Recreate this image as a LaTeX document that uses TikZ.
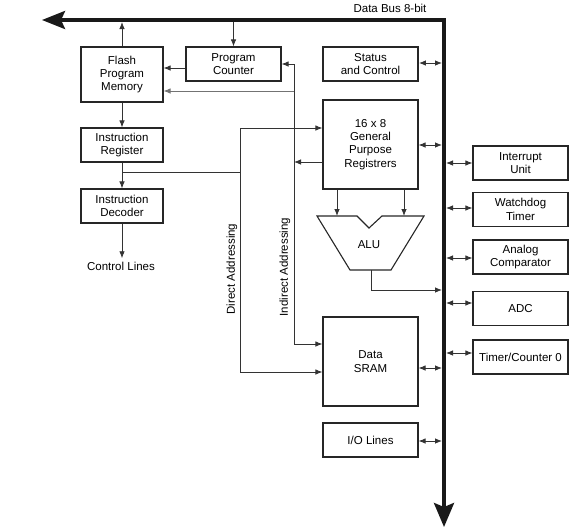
\documentclass[tikz,border=0pt]{standalone}
\usepackage{fontspec}
\setmainfont{Liberation Sans}
\usetikzlibrary{arrows.meta}
\begin{document}
\begin{tikzpicture}[x=1pt,y=-1pt,
  txt/.style={font=\fontsize{11.5}{13.3}\selectfont},
  box/.style={txt,draw=black!85,line width=1.2pt,minimum width=95pt,minimum height=34pt,inner sep=1pt,align=center},
  conn/.style={draw=black!80,line width=0.8pt},
  arr/.style={conn,-{Latex[length=7pt,width=5.5pt]}},
  biarr/.style={conn,{Latex[length=7pt,width=5.5pt]}-{Latex[length=7pt,width=5.5pt]}},
  tobus/.style={shorten >=2pt},
  frombus/.style={shorten <=2pt},
  bus/.style={line width=3.6pt,black!90,line join=miter}
]
\useasboundingbox (0,0) rectangle (588,531);

% bus
\coordinate (busL) at (42,20);
\coordinate (busC) at (444,20);
\coordinate (busB) at (444,527);
\draw[bus,{Stealth[length=23pt,width=18pt,inset=4pt]}-{Stealth[length=24pt,width=20pt,inset=4pt]}] (busL) -- (busC) -- (busB);
\node[txt] (dbl) at (390,8) {Data Bus 8-bit};

% left column
\node[box,minimum width=82pt,minimum height=55pt] (flash) at (122,74.5) {Flash\\Program\\Memory};
\node[box] (pc) at (233.5,64) {Program\\Counter};
\node[box,minimum width=82pt] (ir) at (122,145) {Instruction\\Register};
\node[box,minimum width=82pt] (id) at (122,206) {Instruction\\Decoder};
\node[txt] (ctl) at (121,266) {Control Lines};

% middle column
\node[box,line width=1.9pt] (status) at (370.5,64) {Status\\and Control};
\node[box,minimum height=89pt] (gpr) at (370.5,144.5) {16 x 8\\General\\Purpose\\Registrers};
\node[box,minimum height=89pt] (sram) at (370.5,361.5) {\raisebox{-6pt}{\parbox{60pt}{\centering Data\\SRAM}}};
\node[box] (io) at (370.5,440) {I/O Lines};

% right column
\node[box] (intr) at (520.5,163) {Interrupt\\Unit};
\node[box] (wdt) at (520.5,209.5) {Watchdog\\Timer};
\node[box] (acmp) at (520.5,257) {Analog\\Comparator};
\node[box] (adc) at (520.5,308.5) {ADC};
\node[box] (tmr) at (520.5,357) {Timer/Counter 0};

% ALU
\coordinate (a1) at (317,216);
\coordinate (a2) at (357,216);
\coordinate (a3) at (369,228);
\coordinate (a4) at (382,216);
\coordinate (a5) at (424,216);
\coordinate (a6) at (391,270);
\coordinate (a7) at (350,270);
\draw[draw=black!85,line width=1.1pt,line join=miter] (a1) -- (a2) -- (a3) -- (a4) -- (a5) -- (a6) -- (a7) -- cycle;
\node[txt] (alu) at (369,245) {ALU};
\coordinate (aluOut) at (371,270);
\coordinate (aluBend) at (371,290);

% bus links
\draw[arr,frombus] (pc.north |- busC) -- (pc.north);
\draw[arr,tobus] (flash.north) -- (flash.north |- busC);
\draw[biarr,tobus] (status.east |- 0,63) -- (busC |- 0,63);
\draw[biarr,tobus] (gpr.east |- 0,145) -- (busC |- 0,145);
\draw[biarr,tobus] (sram.east |- 0,368) -- (busC |- 0,368);
\draw[biarr,tobus] (io.east |- 0,441) -- (busC |- 0,441);
\draw[biarr,frombus] (busC |- intr.west) -- (intr.west);
\draw[biarr,frombus] (busC |- 0,208) -- (wdt.west |- 0,208);
\draw[biarr,frombus] (busC |- 0,258) -- (acmp.west |- 0,258);
\draw[biarr,frombus] (busC |- 0,303) -- (adc.west |- 0,303);
\draw[biarr,frombus] (busC |- 0,353) -- (tmr.west |- 0,353);
\draw[arr,tobus] (aluOut) -- (aluBend) -- (busC |- aluBend);

% program flow
\draw[arr] (pc.west |- 0,68) -- (flash.east |- 0,68);
\draw[arr] (flash.south) -- (ir.north);
\draw[arr] (ir.south) -- (id.north);
\draw[arr] (id.south) -- (id.south |- ctl.north);

% GPR to ALU
\draw[arr] (gpr.south -| 337,0) -- (337,216);
\draw[arr] (gpr.south -| 404,0) -- (404,216);

% indirect addressing
\coordinate (indTop) at (294,64);
\coordinate (indMid) at (294,91);
\coordinate (indGpr) at (294,162);
\coordinate (indBot) at (294,344);
\draw[arr] (indTop) -- (pc.east);
\draw[conn] (indTop) -- (indBot);
\draw[arr] (indBot) -- (sram.west |- indBot);
\draw[arr,draw=black!55] (indMid) -- (flash.east |- indMid);
\draw[arr] (gpr.west |- indGpr) -- (indGpr);
\node[txt,rotate=90] (ial) at (285,267) {Indirect Addressing};

% direct addressing
\coordinate (dirJ) at (122,172);
\coordinate (dirTop) at (240,128);
\coordinate (dirBot) at (240,372);
\draw[conn] (dirJ) -- (dirJ -| dirTop);
\draw[arr] (dirJ -| dirTop) -- (dirTop) -- (gpr.west |- dirTop);
\draw[arr] (dirJ -| dirTop) -- (dirBot) -- (sram.west |- dirBot);
\node[txt,rotate=90] (dal) at (232,269) {Direct Addressing};
\end{tikzpicture}
\end{document}
